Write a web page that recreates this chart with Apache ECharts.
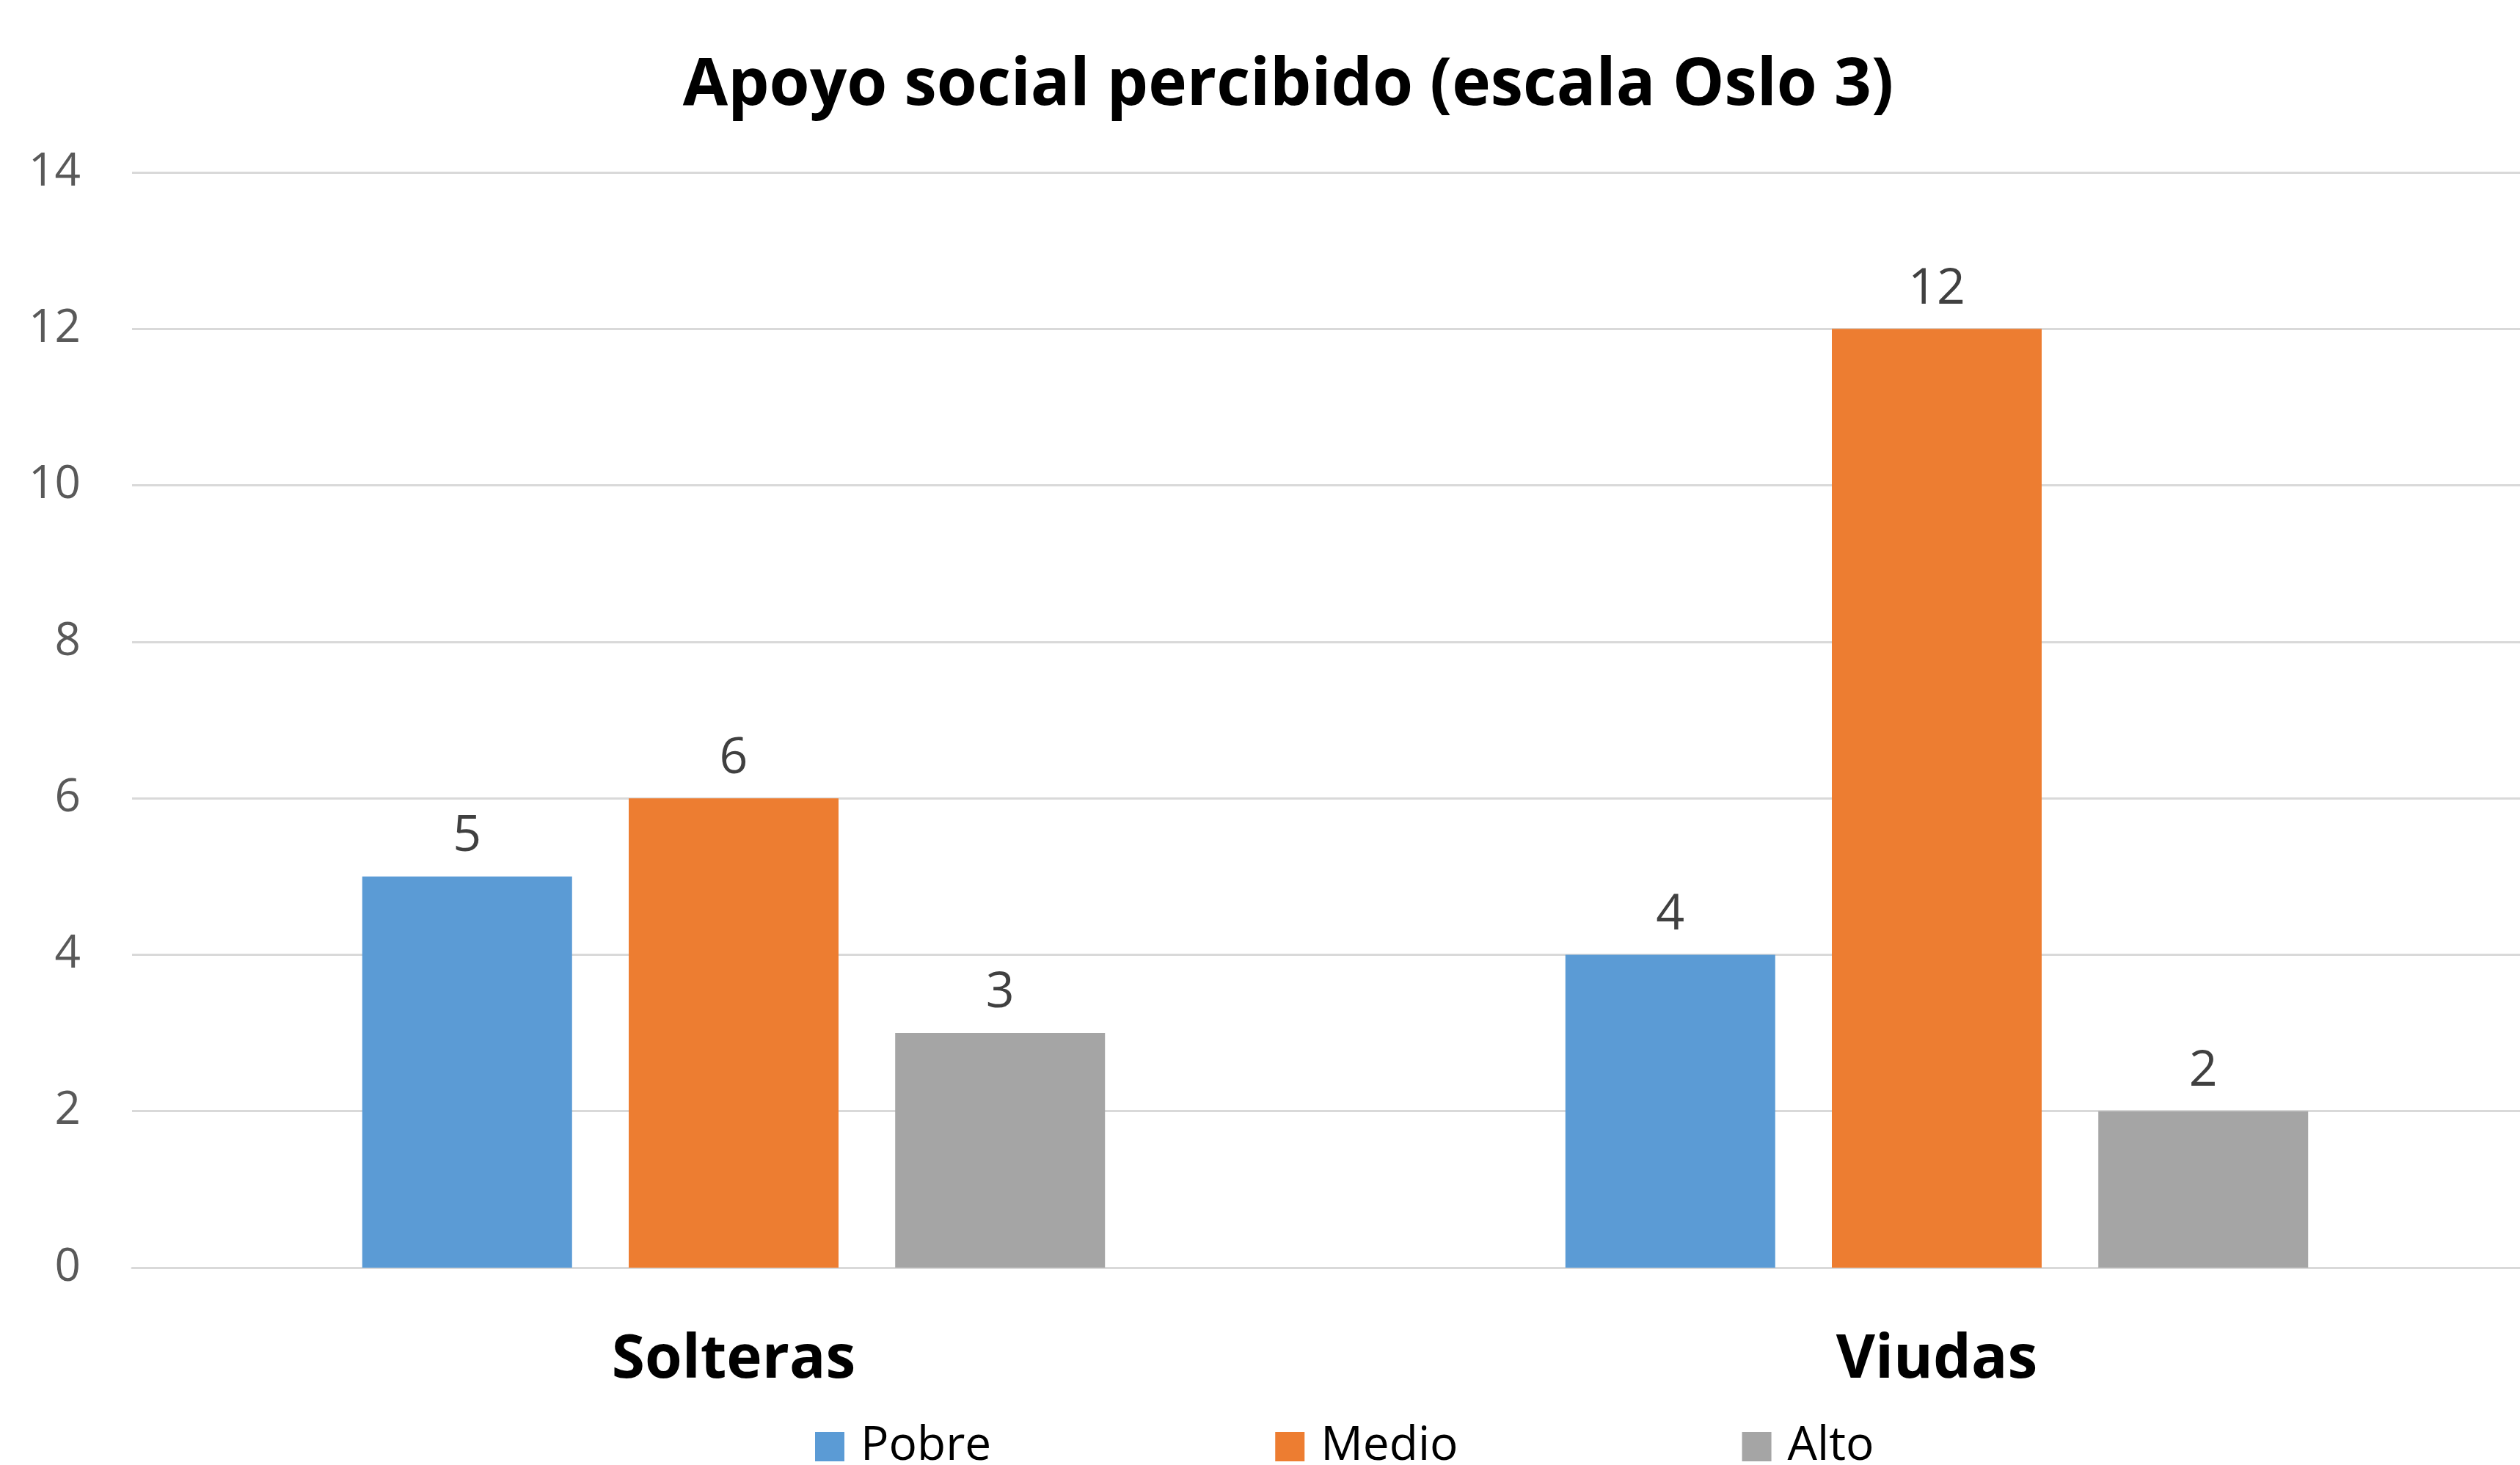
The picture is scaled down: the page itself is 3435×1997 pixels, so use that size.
<!DOCTYPE html>
<html>
<head>
<meta charset="utf-8">
<script src="https://cdn.jsdelivr.net/npm/echarts@6/dist/echarts.min.js"></script>
<style>
  html, body { margin: 0; padding: 0; background: #fff; }
  #chart { width: 3435px; height: 1997px; }
</style>
</head>
<body>
<div id="chart"></div>
<script>
const categories = ['Solteras', 'Viudas'];
const seriesNames = ['Pobre', 'Medio', 'Alto'];
const pobre = [5, 4];
const medio = [6, 12];
const alto = [3, 2];
const colors = ['#5B9BD5', '#ED7D31', '#A5A5A5'];

const font = '"Open Sans", sans-serif';
const myChart = echarts.init(document.getElementById('chart'));

const makeSeries = (name, data, color) => ({
  name: name,
  type: 'bar',
  data: data,
  barWidth: 286,
  barGap: '27%',
  itemStyle: { color: color },
  label: {
    show: true,
    position: 'top',
    distance: 20,
    color: '#404040',
    fontFamily: font,
    fontSize: 68
  }
});

const option = {
  animation: false,
  backgroundColor: '#fff',
  color: colors,
  title: {
    text: 'Apoyo social percibido (escala Oslo 3)',
    left: 1751,
    top: 68,
    textAlign: 'center',
    textStyle: {
      fontFamily: font,
      fontWeight: 'bold',
      fontSize: 89,
      color: '#000'
    }
  },
  legend: {
    data: seriesNames,
    left: 1106,
    top: 1935,
    itemWidth: 40,
    itemHeight: 40,
    itemGap: 387,
    icon: 'rect',
    textStyle: {
      fontFamily: font,
      fontSize: 64,
      lineHeight: 64,
      color: '#000',
      padding: [0, 0, 0, 17]
    }
  },
  grid: {
    left: 180,
    width: 3280,
    top: 235,
    bottom: 269,
    outerBoundsMode: 'none'
  },
  xAxis: {
    type: 'category',
    data: categories,
    axisLine: { show: true, lineStyle: { color: '#D9D9D9', width: 3 } },
    axisTick: { show: false },
    axisLabel: {
      margin: 86,
      fontFamily: font,
      fontWeight: 'bold',
      fontSize: 82,
      color: '#000'
    }
  },
  yAxis: {
    type: 'value',
    min: 0,
    max: 14,
    interval: 2,
    axisLine: { show: false },
    axisTick: { show: false },
    splitLine: { lineStyle: { color: '#D9D9D9', width: 3 } },
    axisLabel: {
      margin: 70,
      fontFamily: font,
      fontSize: 62,
      color: '#595959'
    }
  },
  series: [
    makeSeries(seriesNames[0], pobre, colors[0]),
    makeSeries(seriesNames[1], medio, colors[1]),
    makeSeries(seriesNames[2], alto, colors[2])
  ]
};

myChart.setOption(option);
</script>
</body>
</html>
